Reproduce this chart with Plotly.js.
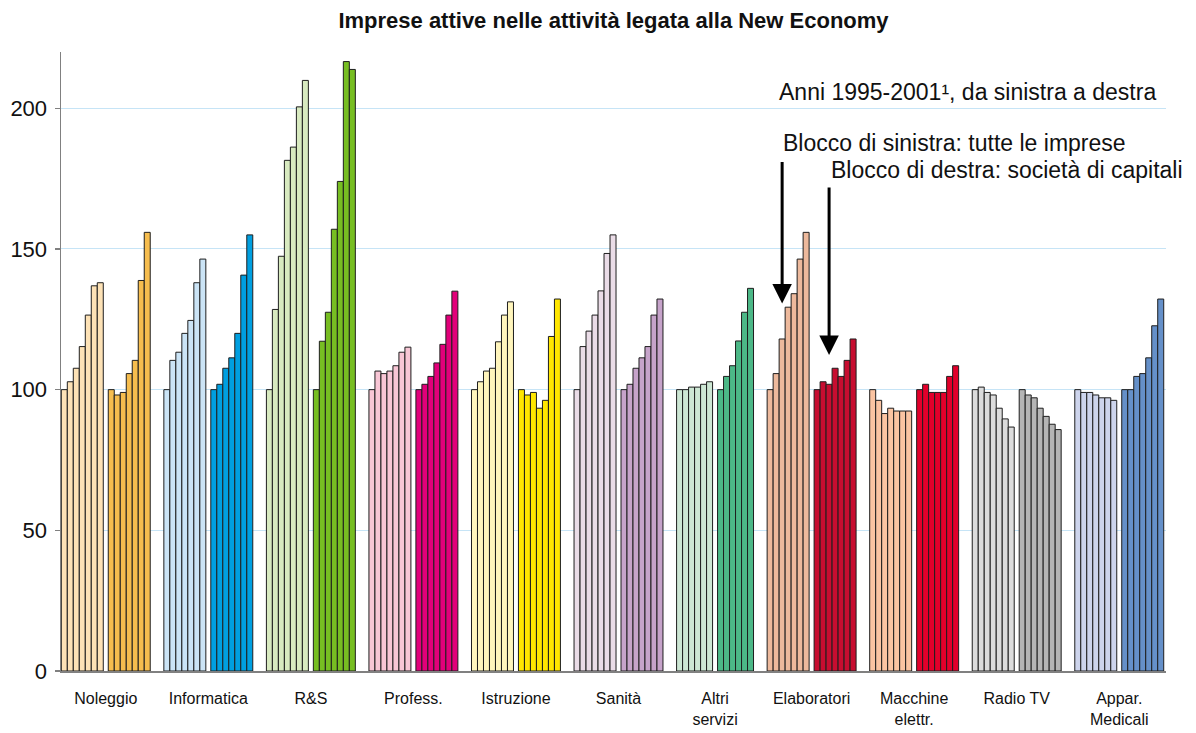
<!DOCTYPE html>
<html>
<head>
<meta charset="utf-8">
<script src="https://cdn.plot.ly/plotly-3.0.1.min.js"></script>
<style>
  html, body { margin: 0; padding: 0; background: #fff; }
  #chart { width: 1196px; height: 733px; }
</style>
</head>
<body>
<div id="chart"></div>
<script>
// Indici 1995 = 100, anni 1995-2001 da sinistra a destra
const years = ['1995', '1996', '1997', '1998', '1999', '2000', '2001'];

const categories = ['Noleggio', 'Informatica', 'R&S', 'Profess.', 'Istruzione', 'Sanità',
  'Altri<br>servizi', 'Elaboratori', 'Macchine<br>elettr.', 'Radio TV', 'Appar.<br>Medicali'];

// Blocco di sinistra: tutte le imprese
const noleggioTutte    = [100, 102.8, 107.6, 115.3, 126.5, 136.9, 138.0];
const informaticaTutte = [100, 110.4, 113.3, 120.0, 124.6, 138.0, 146.4];
const rsTutte          = [100, 128.5, 147.4, 181.5, 186.2, 200.5, 209.9];
const professTutte     = [100, 106.6, 105.7, 106.6, 108.5, 113.3, 115.1];
const istruzioneTutte  = [100, 102.8, 106.6, 107.6, 117.0, 126.5, 131.2];
const sanitaTutte      = [100, 115.3, 120.8, 126.5, 135.1, 148.4, 155.0];
const altriTutte       = [100, 100.0, 100.9, 100.9, 101.9, 102.8];
const elaboratoriTutte = [100, 105.7, 118.0, 129.3, 134.1, 146.4, 155.9];
const macchineTutte    = [100, 96.2, 91.5, 93.4, 92.4, 92.4, 92.4];
const radioTutte       = [100, 100.9, 99.0, 98.1, 93.4, 89.6, 86.7];
const apparTutte       = [100, 99.0, 99.0, 98.1, 97.1, 97.1, 96.2];

// Blocco di destra: società di capitali
const noleggioSocieta    = [100, 98.1, 99.0, 105.7, 110.4, 138.8, 155.9];
const informaticaSocieta = [100, 101.9, 107.6, 111.3, 120.0, 140.7, 155.0];
const rsSocieta          = [100, 117.2, 127.5, 157.0, 174.0, 216.6, 213.8];
const professSocieta     = [100, 101.9, 104.7, 109.5, 116.1, 126.5, 135.0];
const istruzioneSocieta  = [100, 98.1, 99.0, 93.4, 96.2, 118.9, 132.2];
const sanitaSocieta      = [100, 101.9, 107.6, 111.3, 115.3, 126.5, 132.2];
const altriSocieta       = [100, 104.7, 108.5, 117.3, 127.5, 136.0];
const elaboratoriSocieta = [100, 102.8, 101.9, 107.6, 104.7, 110.4, 118.0];
const macchineSocieta    = [100, 101.9, 99.0, 99.0, 99.0, 104.7, 108.5];
const radioSocieta       = [100, 98.1, 97.1, 93.4, 90.5, 87.7, 85.8];
const apparSocieta       = [100, 100.0, 104.7, 105.7, 111.3, 122.7, 132.2];

const lightColors = ['#FDE2B6', '#CBE4F6', '#D8EAC0', '#F8C6D5', '#FFF5BC', '#EADCE7',
  '#CDE7D4', '#EDB99C', '#FBC4A2', '#DCDCDC', '#CDD4EC'];
const darkColors  = ['#F6BD4E', '#009FE0', '#77BE22', '#E2007A', '#FFE600', '#C6A3CA',
  '#4CB887', '#C70D30', '#E2002B', '#B5B5B5', '#6590C9'];

const tutte = [noleggioTutte, informaticaTutte, rsTutte, professTutte, istruzioneTutte, sanitaTutte,
  altriTutte, elaboratoriTutte, macchineTutte, radioTutte, apparTutte];
const societa = [noleggioSocieta, informaticaSocieta, rsSocieta, professSocieta, istruzioneSocieta,
  sanitaSocieta, altriSocieta, elaboratoriSocieta, macchineSocieta, radioSocieta, apparSocieta];

// Layout of the bars along a numeric axis: one unit per bar
const BLOCK_GAP = 0.83;
const GROUP_GAP = 2.27;

const lx = [], ly = [], lc = [], dx = [], dy = [], dc = [];
const tickvals = [];
const blockStarts = [];
let cursor = 0;
categories.forEach((cat, i) => {
  const start = cursor;
  const lightStart = cursor;
  tutte[i].forEach(v => { lx.push(cursor + 0.5); ly.push(v); lc.push(lightColors[i]); cursor += 1; });
  cursor += BLOCK_GAP;
  const darkStart = cursor;
  societa[i].forEach(v => { dx.push(cursor + 0.5); dy.push(v); dc.push(darkColors[i]); cursor += 1; });
  tickvals.push((start + cursor) / 2);
  blockStarts.push({ light: lightStart, dark: darkStart });
  cursor += GROUP_GAP;
});
const xEnd = cursor - GROUP_GAP;

const outline = { color: '#1e1e1e', width: 1 };
const traces = [
  { type: 'bar', name: 'Tutte le imprese', x: lx, y: ly, width: 1,
    marker: { color: lc, line: outline }, hoverinfo: 'y' },
  { type: 'bar', name: 'Società di capitali', x: dx, y: dy, width: 1,
    marker: { color: dc, line: outline }, hoverinfo: 'y' }
];

const FONT = 'Liberation Sans, Arial, Helvetica, sans-serif';
const elab = blockStarts[7];

const layout = {
  width: 1196, height: 733,
  margin: { l: 61, r: 30, t: 52, b: 62 },
  paper_bgcolor: '#fff', plot_bgcolor: '#fff',
  showlegend: false,
  barmode: 'overlay',
  font: { family: FONT, color: '#111' },
  title: {
    text: '<b>Imprese attive nelle attività legata alla New Economy</b>',
    font: { family: FONT, size: 22, color: '#111' },
    x: 0.5, xanchor: 'center', xref: 'paper',
    y: 1 - 20 / 733, yanchor: 'middle', yref: 'container'
  },
  xaxis: {
    range: [-0.05, xEnd + 0.38],
    tickmode: 'array', tickvals: tickvals, ticktext: categories,
    ticks: '', showgrid: false, zeroline: false,
    showline: true, linecolor: '#808080', linewidth: 1.5,
    tickfont: { family: FONT, size: 16, color: '#111' },
    ticklabelstandoff: 12
  },
  yaxis: {
    range: [0, 220],
    tickmode: 'array', tickvals: [0, 50, 100, 150, 200],
    ticks: 'outside', ticklen: 5, tickcolor: '#808080', tickwidth: 1.5,
    showline: true, linecolor: '#808080', linewidth: 1.5,
    showgrid: true, gridcolor: '#C6E4F6', gridwidth: 1,
    zeroline: false,
    tickfont: { family: FONT, size: 22, color: '#111' },
    ticklabelstandoff: 3
  },
  annotations: [
    { text: 'Anni 1995-2001¹, da sinistra a destra', showarrow: false,
      xref: 'paper', yref: 'paper', x: (1158 - 61) / 1105, y: (671 - 92) / 619,
      xanchor: 'right', yanchor: 'middle', font: { family: FONT, size: 23, color: '#111' } },
    { text: 'Blocco di sinistra: tutte le imprese', showarrow: false,
      xref: 'paper', yref: 'paper', x: (781 - 61) / 1105, y: (671 - 143) / 619,
      xanchor: 'left', yanchor: 'middle', font: { family: FONT, size: 23, color: '#111' } },
    { text: 'Blocco di destra: società di capitali', showarrow: false,
      xref: 'paper', yref: 'paper', x: (829 - 61) / 1105, y: (671 - 170) / 619,
      xanchor: 'left', yanchor: 'middle', font: { family: FONT, size: 23, color: '#111' } },
    { text: '', showarrow: true, xref: 'x', yref: 'y',
      x: elab.light + 2.5, y: 130.6, ax: 0, ay: -143,
      arrowhead: 2, arrowsize: 1.3, arrowwidth: 3, arrowcolor: '#000', standoff: 0 },
    { text: '', showarrow: true, xref: 'x', yref: 'y',
      x: elab.dark + 2.5, y: 112.3, ax: 0, ay: -169,
      arrowhead: 2, arrowsize: 1.3, arrowwidth: 3, arrowcolor: '#000', standoff: 0 }
  ]
};

Plotly.newPlot('chart', traces, layout, { displayModeBar: false, staticPlot: true });
</script>
</body>
</html>
